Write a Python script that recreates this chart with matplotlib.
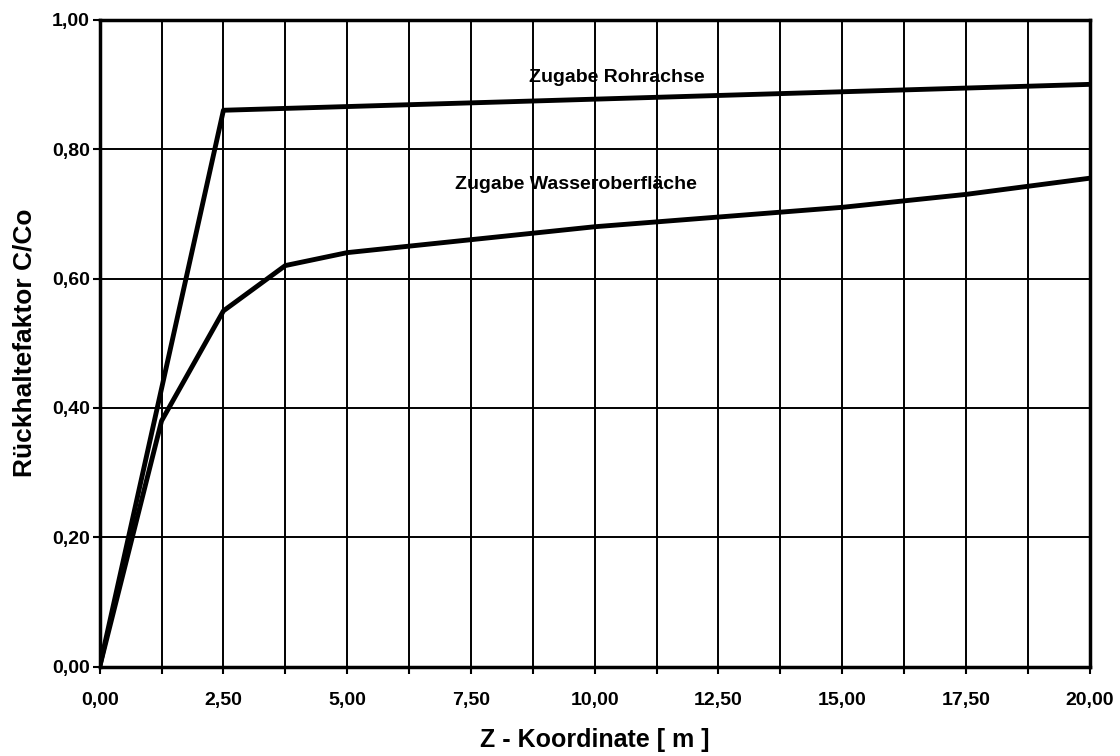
import numpy as np
import matplotlib.pyplot as plt
from matplotlib.ticker import MultipleLocator, FuncFormatter

plt.rcParams['font.family'] = ['Liberation Sans', 'DejaVu Sans']
plt.rcParams['font.weight'] = 'bold'

# Z-Koordinate [m]
z_rohr = [0.0, 2.5, 20.0]
c_rohr = [0.0, 0.86, 0.90]

z_wasser = [0.0, 1.25, 2.5, 3.75, 5.0, 7.5, 10.0, 12.5, 15.0, 17.5, 20.0]
c_wasser = [0.0, 0.38, 0.55, 0.62, 0.64, 0.66, 0.68, 0.695, 0.71, 0.73, 0.755]

fig = plt.figure(figsize=(11.2, 7.56), dpi=100)
ax = fig.add_axes([0.089, 0.118, 0.884, 0.856])

ax.plot(z_rohr, c_rohr, color='black', lw=3.5, zorder=3)
ax.plot(z_wasser, c_wasser, color='black', lw=3.5, zorder=3)

ax.text(10.44, 0.91, 'Zugabe Rohrachse', ha='center', va='center', fontsize=14, fontweight='bold')
ax.text(9.62, 0.745, 'Zugabe Wasseroberfläche', ha='center', va='center', fontsize=14, fontweight='bold')

ax.set_xlim(0, 20)
ax.set_ylim(0, 1.0)
ax.xaxis.set_major_locator(MultipleLocator(2.5))
ax.xaxis.set_minor_locator(MultipleLocator(1.25))
ax.yaxis.set_major_locator(MultipleLocator(0.2))
fmt = FuncFormatter(lambda v, p: f'{v:.2f}'.replace('.', ','))
ax.xaxis.set_major_formatter(fmt)
ax.yaxis.set_major_formatter(fmt)

ax.grid(which='both', color='black', lw=1.4)
ax.tick_params(which='both', direction='out', length=5, width=1.5, labelsize=14)
ax.tick_params(axis='x', pad=13)
ax.tick_params(axis='y', pad=2)
for s in ax.spines.values():
    s.set_linewidth(2.5)

ax.set_xlabel('Z - Koordinate [ m ]', fontsize=18, fontweight='bold', labelpad=14)
ax.set_ylabel('Rückhaltefaktor C/Co', fontsize=19, fontweight='bold', labelpad=11)

fig.savefig('out.png', dpi=100)
